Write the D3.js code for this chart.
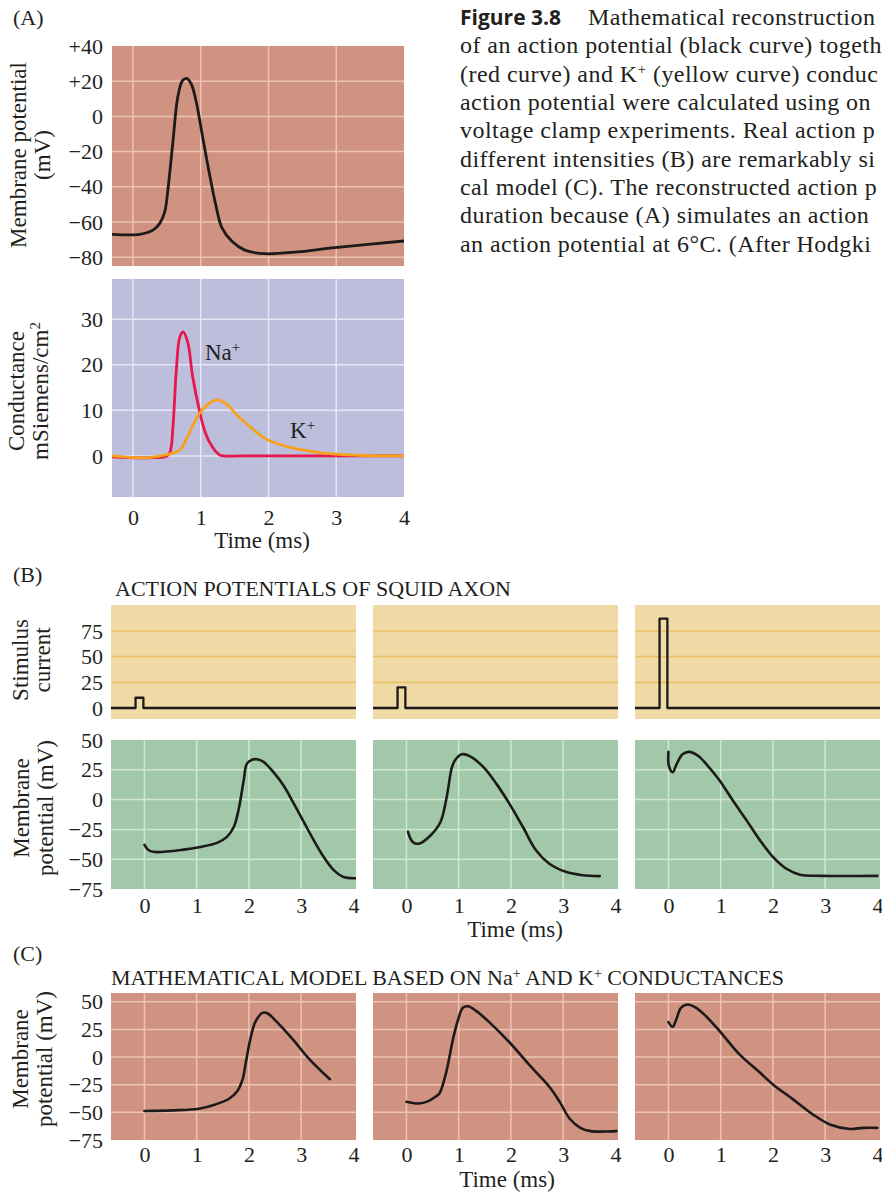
<!DOCTYPE html>
<html>
<head>
<meta charset="utf-8">
<script src="https://cdn.jsdelivr.net/npm/d3@7"></script>
<style>
  body { margin: 0; background: #ffffff; }
  svg { display: block; }
  text { font-family: "Liberation Serif", "DejaVu Serif", serif; fill: #231f20; }
</style>
</head>
<body>
<svg id="fig" width="882" height="1194"></svg>
<script>
// ---------- Data ----------
// (A) reconstructed action potential, time in ms, potential in mV
const apTime    = [-0.31, 0.1, 0.3, 0.4, 0.47, 0.52, 0.59, 0.66, 0.73, 0.79, 0.86, 0.93, 1.02, 1.12, 1.22, 1.31, 1.46, 1.65, 1.94, 2.43, 2.98, 4.0];
const apVoltage = [-67, -67, -64.5, -60.5, -54, -40, -14, 10.8, 20.3, 21.6, 18.4, 8.9, -10, -31, -50, -63, -71, -76, -78, -77, -74.6, -70.8];

// (A) conductances, mSiemens/cm2
const naTime = [-0.31, 0.2, 0.5, 0.55, 0.59, 0.64, 0.69, 0.74, 0.81, 0.88, 0.98, 1.07, 1.17, 1.27, 1.33, 1.6, 2.5, 4.0];
const naCond = [-0.2, -0.4, 0, 1, 6.4, 19, 26, 27.2, 24.8, 17.4, 10, 5, 2, 0.3, 0, 0, 0, 0];
const kTime  = [-0.31, 0.2, 0.5, 0.69, 0.78, 0.98, 1.12, 1.25, 1.37, 1.56, 1.85, 1.99, 2.29, 2.67, 2.99, 3.4, 4.0];
const kCond  = [0, -0.4, 0.3, 1.25, 3.5, 9.3, 11.5, 12.3, 11.5, 8.6, 4.9, 3.5, 2.0, 0.9, 0.4, 0.1, 0];

// (B) stimulus pulses (three intensities)
const stimAmplitude = [10, 20, 87];
const stimOnset = -0.17;
const stimOffset = -0.02;

// (B) recorded squid axon action potentials
const sq1Time = [0, 0.08, 0.2, 0.75, 1.07, 1.39, 1.58, 1.71, 1.8, 1.9, 1.96, 2.06, 2.15, 2.28, 2.47, 2.66, 2.86, 3.05, 3.24, 3.43, 3.62, 3.81, 4.05];
const sq1Volt = [-38, -42.5, -44, -42, -39.7, -36.3, -31.3, -23, -9, 16, 30, 33.5, 33.8, 31.6, 23, 12, -3.4, -18.7, -34, -48, -59, -65, -66];
const sq2Time = [0.03, 0.12, 0.24, 0.44, 0.65, 0.77, 0.87, 0.93, 1.06, 1.22, 1.47, 1.72, 1.97, 2.23, 2.48, 2.73, 3.05, 3.37, 3.7];
const sq2Volt = [-27, -35.5, -37, -31, -19, 2, 27, 33, 38, 36.3, 27.4, 13.4, -3.4, -23, -42.5, -53.6, -60.6, -63.4, -64.2];
const sq3Time = [0, 0.01, 0.08, 0.16, 0.27, 0.4, 0.56, 0.72, 0.98, 1.23, 1.49, 1.75, 2.0, 2.26, 2.52, 2.96, 4.0];
const sq3Volt = [40, 28, 23, 30, 38, 40, 37, 30, 16, -0.6, -17, -34, -48, -58, -63, -64, -64];

// (C) model action potentials
const md1Time = [0, 0.53, 1.04, 1.36, 1.62, 1.78, 1.88, 1.94, 2.04, 2.13, 2.26, 2.36, 2.52, 2.84, 3.16, 3.55];
const md1Volt = [-48.8, -48.2, -46.7, -42.8, -37.7, -30.7, -20, -5, 19, 32.5, 40, 39.5, 32.5, 16, -2, -20];
const md2Time = [0, 0.23, 0.42, 0.55, 0.63, 0.76, 0.89, 0.99, 1.08, 1.18, 1.34, 1.6, 1.98, 2.37, 2.75, 2.94, 3.13, 3.33, 3.52, 4.02];
const md2Volt = [-40.4, -42, -39.8, -36, -33, -14, 16, 34, 44.6, 46, 41.6, 31, 13, -8, -27.7, -41, -56, -64, -67, -67];
const md3Time = [0, 0.08, 0.15, 0.24, 0.37, 0.53, 0.72, 0.98, 1.36, 1.75, 2.0, 2.38, 2.77, 3.09, 3.47, 3.73, 4.0];
const md3Volt = [31.6, 27.4, 34, 44.6, 47.6, 44.6, 37, 23.5, 2.4, -14, -24.7, -38, -52, -61, -65, -64, -64];

// Tick values
const apTicks   = [40, 20, 0, -20, -40, -60, -80];
const condTicks = [0, 10, 20, 30];
const stimTicks = [0, 25, 50, 75];
const vTicks    = [50, 25, 0, -25, -50, -75];
const timeTicksA = [0, 1, 2, 3, 4];
const timeTicks  = [0, 1, 2, 3, 4];

// Caption lines (the column runs off the right edge of the page)
const captionLines = [
  [{ t: "Mathematical reconstruction" }],
  [{ t: "of an action potential (black curve) togeth" }],
  [{ t: "(red curve) and K" }, { t: "+", sup: true }, { t: " (yellow curve) conduc" }],
  [{ t: "action potential were calculated using on" }],
  [{ t: "voltage clamp experiments. Real action p" }],
  [{ t: "different intensities (B) are remarkably si" }],
  [{ t: "cal model (C). The reconstructed action p" }],
  [{ t: "duration because (A) simulates an action" }],
  [{ t: "an action potential at 6°C. (After Hodgki" }]
];

// ---------- Drawing ----------
const svg = d3.select("#fig");
const INK = "#231f20";
const TICK_FS = 22, LABEL_FS = 23, TITLE_FS = 22;
let clipId = 0;

const minusFmt = d => d < 0 ? "\u2212" + Math.abs(d) : String(d);
const signedFmt = d => d > 0 ? "+" + d : minusFmt(d);

function panel(o) {
  const g = svg.append("g");
  const x = d3.scaleLinear().domain(o.xDomain).range([o.left, o.right]);
  const y = d3.scaleLinear().domain(o.yDomain).range([o.bottom, o.top]);
  const id = "clip" + (clipId++);
  svg.append("clipPath").attr("id", id).append("rect")
    .attr("x", o.left).attr("y", o.top - 2)
    .attr("width", o.right - o.left).attr("height", o.bottom - o.top + 4);

  g.append("rect")
    .attr("x", o.left).attr("y", o.top)
    .attr("width", o.right - o.left).attr("height", o.bottom - o.top)
    .attr("fill", o.bg);

  g.selectAll("line.hg").data(o.hGrid || []).join("line").attr("class", "hg")
    .attr("x1", o.left).attr("x2", o.right)
    .attr("y1", d => y(d)).attr("y2", d => y(d))
    .attr("stroke", o.grid).attr("stroke-width", o.gridWidth || 1.5);
  g.selectAll("line.vg").data(o.vGrid || []).join("line").attr("class", "vg")
    .attr("y1", o.top).attr("y2", o.bottom)
    .attr("x1", d => x(d)).attr("x2", d => x(d))
    .attr("stroke", o.grid).attr("stroke-width", o.gridWidth || 1.5);

  const plot = g.append("g").attr("clip-path", `url(#${id})`);
  (o.series || []).forEach(s => {
    const line = d3.line().x(d => x(d[0])).y(d => y(d[1]))
      .curve(s.curve || d3.curveCatmullRom.alpha(0.5));
    plot.append("path").datum(s.data)
      .attr("d", line).attr("fill", "none")
      .attr("stroke", s.color).attr("stroke-width", s.width || 2.6)
      .attr("stroke-linejoin", "round").attr("stroke-linecap", "round");
  });

  if (o.yTicks) {
    const ax = g.append("g").attr("transform", `translate(${o.left},0)`)
      .call(d3.axisLeft(y).tickValues(o.yTicks).tickSize(0)
        .tickPadding(o.left - 103).tickFormat(o.yFormat || minusFmt));
    ax.select(".domain").remove();
    ax.selectAll("text").style("font-family", '"Liberation Serif", serif')
      .style("font-size", TICK_FS + "px").attr("fill", INK);
  }
  if (o.xTicks) {
    const pad = o.xBaseline - o.bottom - 0.71 * TICK_FS;
    const ax = g.append("g").attr("transform", `translate(0,${o.bottom})`)
      .call(d3.axisBottom(x).tickValues(o.xTicks).tickSize(0).tickPadding(pad).tickFormat(d3.format("d")));
    ax.select(".domain").remove();
    ax.selectAll("text").style("font-family", '"Liberation Serif", serif')
      .style("font-size", TICK_FS + "px").attr("fill", INK);
  }
  return { g, x, y };
}

function vLabel(lines, cy) {
  lines.forEach(([txt, bx]) => {
    svg.append("text")
      .attr("transform", `translate(${bx},${cy}) rotate(-90)`)
      .attr("text-anchor", "middle")
      .style("font-size", LABEL_FS + "px")
      .html(txt);
  });
}

function label(txt, x, y, size, anchor) {
  return svg.append("text").attr("x", x).attr("y", y)
    .attr("text-anchor", anchor || "start")
    .style("font-size", size + "px").html(txt);
}

// Text built from plain and superscript segments
function richText(sel, segs, supSize, shift) {
  let pending = 0;
  segs.forEach(s => {
    if (s.sup) {
      sel.append("tspan").attr("dy", -shift + pending).style("font-size", supSize + "px").text(s.t);
      pending = shift;
    } else {
      const ts = sel.append("tspan").text(s.t);
      if (pending) ts.attr("dy", pending);
      pending = 0;
    }
  });
}

// ----- (A) -----
label("(A)", 13, 25, 22);

panel({
  left: 112, right: 404, top: 46, bottom: 266,
  xDomain: [-0.31, 4], yDomain: [-85, 40],
  bg: "#d09381", grid: "#ecc3b6",
  hGrid: [-80, -60, -40, -20, 0, 20], vGrid: [0, 1, 2, 3],
  yTicks: apTicks, yFormat: signedFmt,
  series: [{ data: d3.zip(apTime, apVoltage), color: "#1c1a1a", width: 2.8 }]
});
vLabel([["Membrane potential", 26], ["(mV)", 50]], 155);

panel({
  left: 112, right: 404, top: 279, bottom: 497,
  xDomain: [-0.31, 4], yDomain: [-9, 38.8],
  bg: "#bdbddc", grid: "#e6e6f4",
  hGrid: condTicks, vGrid: [0, 1, 2, 3],
  yTicks: condTicks, xTicks: timeTicksA, xBaseline: 525,
  series: [
    { data: d3.zip(naTime, naCond), color: "#e8174b", width: 2.8 },
    { data: d3.zip(kTime, kCond), color: "#f8a11c", width: 2.8 }
  ]
});
vLabel([["Conductance", 24], ["mSiemens/cm<tspan dy='-8' font-size='15'>2</tspan>", 48]], 391);
richText(label("", 205, 360, LABEL_FS), [{ t: "Na" }, { t: "+", sup: true }], 15, 8);
richText(label("", 290, 438, LABEL_FS), [{ t: "K" }, { t: "+", sup: true }], 15, 8);
label("Time (ms)", 262, 548, LABEL_FS, "middle");

// ----- Caption -----
const capClip = svg.append("clipPath").attr("id", "capclip");
capClip.append("rect").attr("x", 440).attr("y", 0).attr("width", 442).attr("height", 270);
const cap = svg.append("g").attr("clip-path", "url(#capclip)");
cap.append("text").attr("x", 460).attr("y", 25)
  .style("font-family", '"Open Sans", "Noto Sans", sans-serif')
  .style("font-weight", 700).style("font-size", "21px")
  .text("Figure 3.8");
captionLines.forEach((segs, i) => {
  const t = cap.append("text")
    .attr("x", i === 0 ? 588 : 460).attr("y", 25 + i * 28.33)
    .style("font-size", "24px").style("letter-spacing", "0.45px");
  richText(t, segs, 15, 8);
});

// ----- (B) -----
label("(B)", 13, 582, 22);
label("ACTION POTENTIALS OF SQUID AXON", 115, 596, TITLE_FS);

const panelLefts = [111, 373, 635];
const panelW = 245;
const bDomain = [-0.64, 4.05];
const squid = [d3.zip(sq1Time, sq1Volt), d3.zip(sq2Time, sq2Volt), d3.zip(sq3Time, sq3Volt)];
const model = [d3.zip(md1Time, md1Volt), d3.zip(md2Time, md2Volt), d3.zip(md3Time, md3Volt)];

panelLefts.forEach((L, i) => {
  const amp = stimAmplitude[i];
  const stim = [[bDomain[0], 0], [stimOnset, amp], [stimOffset, 0], [bDomain[1], 0]];
  panel({
    left: L, right: L + panelW, top: 605, bottom: 719,
    xDomain: bDomain, yDomain: [-10.7, 100.3],
    bg: "#f0daa5", grid: "#e8c166", gridWidth: 1.6,
    hGrid: [25, 50, 75],
    yTicks: i === 0 ? stimTicks : null,
    series: [{ data: stim, color: "#1c1a1a", width: 2.3, curve: d3.curveStepAfter }]
  });
  panel({
    left: L, right: L + panelW, top: 740, bottom: 889,
    xDomain: bDomain, yDomain: [-75, 50],
    bg: "#a1c8a9", grid: "#d2e6d4",
    hGrid: [-50, -25, 0, 25], vGrid: [0, 1, 2, 3],
    yTicks: i === 0 ? vTicks : null,
    xTicks: timeTicks, xBaseline: 913,
    series: [{ data: squid[i], color: "#1c1a1a", width: 2.6 }]
  });
});
vLabel([["Stimulus", 28], ["current", 50]], 660);
vLabel([["Membrane", 29], ["potential (mV)", 53]], 808);
label("Time (ms)", 515, 937, LABEL_FS, "middle");

// ----- (C) -----
label("(C)", 13, 961, 22);
richText(label("", 111, 985, TITLE_FS), [
  { t: "MATHEMATICAL MODEL BASED ON Na" }, { t: "+", sup: true },
  { t: " AND K" }, { t: "+", sup: true }, { t: " CONDUCTANCES" }
], 14, 7);

panelLefts.forEach((L, i) => {
  panel({
    left: L, right: L + panelW, top: 993, bottom: 1140,
    xDomain: bDomain, yDomain: [-75, 58],
    bg: "#d09381", grid: "#ecc3b6",
    hGrid: [-50, -25, 0, 25, 50], vGrid: [0, 1, 2, 3],
    yTicks: i === 0 ? vTicks : null,
    xTicks: timeTicks, xBaseline: 1162,
    series: [{ data: model[i], color: "#1c1a1a", width: 2.6 }]
  });
});
vLabel([["Membrane", 28], ["potential (mV)", 52]], 1059);
label("Time (ms)", 507, 1187, LABEL_FS, "middle");
</script>
</body>
</html>
